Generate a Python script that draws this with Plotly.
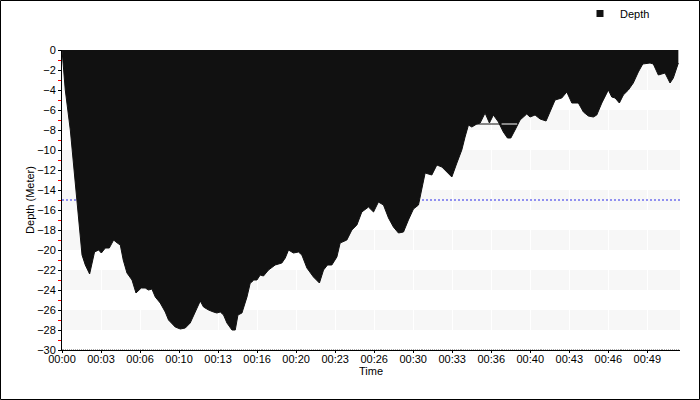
import plotly.graph_objects as go

# ---- data (time in minutes, depth in meters) ----
time_min = [0.00, 0.28, 0.71, 1.14, 1.42, 1.71, 1.99, 2.36, 2.78, 3.13, 3.36, 3.70, 4.04, 4.41,
            4.72, 4.98, 5.23, 5.55, 5.98, 6.32, 6.77, 7.11, 7.39, 7.68, 7.97, 8.39, 8.82, 9.10,
            9.67, 10.10, 10.53, 10.95, 11.38, 11.81, 12.09, 12.52, 12.94, 13.23, 13.52, 13.80,
            14.09, 14.52, 14.80, 15.03, 15.37, 15.65, 15.80, 16.08, 16.22, 16.36, 16.65, 16.93,
            17.21, 17.64, 18.21, 18.78, 19.07, 19.35, 19.77, 20.20, 20.49, 20.92, 21.48, 21.99,
            22.34, 22.68, 23.05, 23.48, 23.76, 24.33, 24.76, 25.19, 25.61, 26.18, 26.61, 27.03,
            27.46, 27.89, 28.31, 28.74, 29.17, 29.59, 30.02, 30.45, 30.74, 31.02, 31.59, 32.02,
            32.45, 32.73, 33.30, 33.73, 34.15, 34.43, 34.72, 35.01, 35.43, 35.72, 36.14, 36.51,
            36.85, 37.28, 37.70, 38.05, 38.34, 38.70, 39.13, 39.70, 39.98, 40.41, 40.84, 41.35,
            41.69, 42.12, 42.69, 43.12, 43.55, 44.11, 44.54, 44.96, 45.39, 45.68, 46.11, 46.67,
            46.96, 47.25, 47.61, 47.95, 48.38, 48.80, 49.23, 49.61, 50.23, 50.51, 50.94, 51.23,
            51.51, 51.94, 52.22, 52.65]
depth_m = [0, -4, -8, -13.5, -17, -20.5, -21.5, -22.4, -20.2, -20, -20.3, -19.8, -19.8, -19,
           -19.3, -19.5, -21, -22.3, -23, -24.3, -23.8, -23.8, -24, -23.9, -24.7, -25.3, -26.2, -27,
           -27.7, -27.9, -27.8, -27.3, -26.2, -25.1, -25.7, -26, -26.2, -26.3, -26.2, -26.5,
           -27.3, -28, -28, -26.5, -26.3, -25.3, -24.7, -23.3, -23.2, -23, -23, -22.5,
           -22.6, -22, -21.5, -21.3, -20.8, -20, -20.3, -20.2, -20.5, -21.8, -22.7, -23.3,
           -22, -21.5, -21.5, -20.7, -19.3, -19, -18, -17.5, -16.2, -15.7, -16.2, -15.2,
           -15.5, -16.8, -17.7, -18.3, -18.2, -17, -15.9, -15.5, -14, -12.3, -12.5, -11.5,
           -11.7, -12, -12.7, -11.3, -10, -8.7, -7.5, -7.7, -7.4, -7.3, -6.3, -7.3,
           -6.5, -7.2, -8.2, -8.8, -8.8, -8, -7, -6.4, -6.7, -6.5, -6.9, -7.1,
           -6.2, -5, -4.8, -4.2, -5.3, -5.3, -6.2, -6.6, -6.7, -6.5, -5.3, -4,
           -4.7, -4.8, -5.3, -4.5, -4, -3.3, -2.2, -1.4, -1.3, -1.4, -2.5, -2.4,
           -2.3, -3.3, -2.8, -1.3]

x_max = 52.79
ref_depth = -15
ref_x = [0, x_max]
glitch_dark_x = [35.27, 37.55]
glitch_light_x = [37.55, 38.88]
glitch_depth = -7.4

tick_vals = [i * 10 / 3 for i in range(16)]
tick_text = ["00:00", "00:03", "00:06", "00:10", "00:13", "00:16", "00:20", "00:23",
             "00:26", "00:30", "00:33", "00:36", "00:40", "00:43", "00:46", "00:49"]
y_ticks = list(range(0, -31, -2))
band_tops = [-2, -6, -10, -14, -18, -22, -26]

FONT = "Liberation Sans, Arial, sans-serif"
W, H = 700, 400
ML, MR, MT, MB = 62, 20, 50, 50
PW, PH = W - ML - MR, H - MT - MB

fig = go.Figure()

fig.add_trace(go.Scatter(x=ref_x, y=[ref_depth, ref_depth], mode="lines",
                         line=dict(color="#2a2ae8", width=1, dash="2px,2px"),
                         showlegend=False, hoverinfo="skip"))
fig.add_trace(go.Scatter(x=time_min, y=depth_m, mode="lines", fill="tozeroy",
                         fillcolor="#111111", line=dict(color="#111111", width=1),
                         name="Depth", showlegend=False))
fig.add_trace(go.Scatter(x=glitch_dark_x, y=[glitch_depth] * 2, mode="lines",
                         line=dict(color="#111111", width=1), showlegend=False, hoverinfo="skip"))
fig.add_trace(go.Scatter(x=glitch_light_x, y=[glitch_depth] * 2, mode="lines",
                         line=dict(color="#ffffff", width=1), showlegend=False, hoverinfo="skip"))
# legend entry
fig.add_trace(go.Scatter(x=[None], y=[None], mode="markers", name="Depth",
                         marker=dict(symbol="square", size=7, color="#111111")))

shapes = []
for top in band_tops:
    shapes.append(dict(type="rect", xref="paper", yref="y", x0=0, x1=1, y0=top, y1=top - 2,
                       fillcolor="#f7f7f7", line=dict(width=0), layer="below"))
# outer frame
shapes.append(dict(type="rect", xref="paper", yref="paper",
                   x0=(0.5 - ML) / PW, x1=(W - 0.5 - ML) / PW,
                   y0=-(MB - 0.5) / PH, y1=1 + (MT - 0.5) / PH,
                   line=dict(color="black", width=1), fillcolor="rgba(0,0,0,0)", layer="above"))

fig.update_layout(
    width=W, height=H,
    margin=dict(l=ML, r=MR, t=MT, b=MB, autoexpand=False),
    paper_bgcolor="white", plot_bgcolor="white",
    font=dict(family=FONT, size=11, color="black"),
    shapes=shapes,
    showlegend=True,
    legend=dict(x=(580 - ML) / PW, xanchor="left", y=1 + (MT + 1) / PH, yanchor="top",
                bgcolor="rgba(0,0,0,0)", font=dict(size=11), itemwidth=30,
                tracegroupgap=0),
    xaxis=dict(range=[0, x_max], tickvals=tick_vals, ticktext=tick_text,
               showline=True, linecolor="black", linewidth=1,
               ticks="outside", ticklen=2, tickcolor="black",
               ticklabelstandoff=-3,
               showgrid=True, gridcolor="white", gridwidth=1, zeroline=False,
               automargin=False,
               minor=dict(dtick=10 / 60, ticks="inside", ticklen=1, tickcolor="#aaaaaa",
                          showgrid=False),
               title=dict(text="Time", standoff=0, font=dict(size=11))),
    yaxis=dict(range=[-30, 0], tickvals=y_ticks,
               showline=True, linecolor="black", linewidth=1,
               ticks="outside", ticklen=3, tickcolor="black",
               showgrid=False, zeroline=False, automargin=False,
               minor=dict(dtick=1, tick0=-1, ticks="outside", ticklen=3, tickcolor="red",
                          showgrid=False),
               title=dict(text="Depth (Meter)", standoff=0, font=dict(size=11))),
)

fig.write_html("out.html", config={"displayModeBar": False},
               post_script="document.body.style.margin='0';document.body.style.padding='0';")
